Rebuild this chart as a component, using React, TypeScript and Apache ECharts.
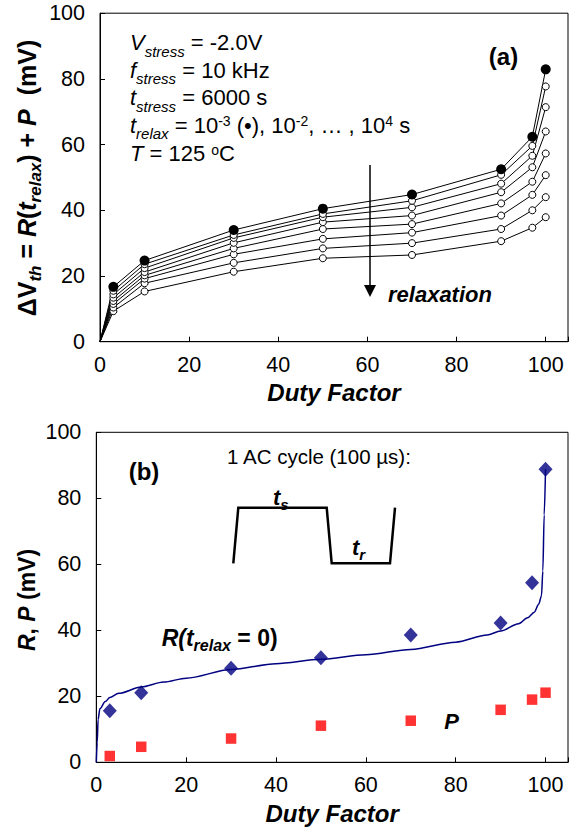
import React, { useEffect, useRef } from "react";
import * as echarts from "echarts";

const FONT = "'Liberation Sans', Arial, Helvetica, sans-serif";

// ---- Panel (a) data ----
const dutyA = [0, 3, 10, 30, 50, 70, 90, 97, 100];
const relaxLabels = ["1e-3", "1e-2", "1e-1", "1e0", "1e1", "1e2", "1e3", "1e4"];
const relaxSeries: number[][] = [
  [0, 16.7, 24.7, 34.0, 40.5, 44.8, 52.5, 62.4, 82.9],
  [0, 15.5, 23.6, 32.5, 38.9, 42.9, 50.8, 59.6, 77.7],
  [0, 14.4, 22.4, 31.6, 37.9, 40.9, 48.1, 56.6, 71.4],
  [0, 13.4, 21.2, 30.1, 36.4, 38.4, 45.5, 53.1, 64.0],
  [0, 12.4, 20.2, 28.4, 34.3, 35.8, 42.1, 48.7, 57.3],
  [0, 11.5, 19.2, 26.6, 31.3, 33.2, 38.4, 44.7, 50.7],
  [0, 10.4, 17.8, 24.0, 28.4, 30.0, 34.3, 40.0, 44.0],
  [0, 9.3, 15.3, 21.3, 25.4, 26.4, 30.6, 34.7, 37.9],
];

// ---- Panel (b) data ----
const dutyB = [3, 10, 30, 50, 70, 90, 97, 100];
const rValues = [15.6, 21.1, 28.5, 31.7, 38.6, 42.2, 54.4, 88.8];
const pValues = [1.9, 4.7, 7.2, 11.1, 12.6, 15.9, 19.0, 21.1];
const fitX = [0, 0.2, 0.4, 0.8, 2, 3, 5, 10, 15, 20, 30, 40, 50, 60, 70, 80, 87, 90, 94, 96, 97.5, 98.5, 99.1, 99.4, 99.7, 100];
const fitY = [0, 6, 13, 16.2, 18.4, 19.6, 20.9, 22.8, 24.3, 25.5, 28.1, 29.9, 31.2, 32.6, 34.2, 36.4, 38.6, 39.8, 42.0, 43.8, 45.5, 48.0, 50.5, 58, 75, 88.8];

const xTicks = [0, 20, 40, 60, 80, 100];

function fs(size: number, opts: any = {}) {
  return { fontFamily: FONT, fontSize: size, color: "#000", fill: "#000", verticalAlign: "top", ...opts };
}

export default function App() {
  const ref = useRef<HTMLDivElement>(null);
  useEffect(() => {
    if (!ref.current) return;
    const chart = echarts.init(ref.current, undefined, { renderer: "svg" });

    const axisCommonX = (gridIndex: number) => ({
      type: "value",
      gridIndex,
      min: 0,
      max: 105,
      interval: 20,
      axisLine: { show: true, lineStyle: { color: "#000", width: 1 } },
      axisTick: { show: true, inside: true, length: 5, lineStyle: { color: "#000" } },
      axisLabel: {
        fontFamily: FONT,
        fontSize: 21.5,
        color: "#000",
        margin: 12,
        formatter: (v: number) => (xTicks.indexOf(v) >= 0 ? String(v) : ""),
      },
      splitLine: { show: false },
      name: "Duty Factor",
      nameLocation: "middle",
      nameGap: 39,
      nameTextStyle: { fontFamily: FONT, fontSize: 24, fontWeight: "bold", fontStyle: "italic", color: "#000" },
    });
    const axisCommonY = (gridIndex: number) => ({
      type: "value",
      gridIndex,
      min: 0,
      max: 100,
      interval: 20,
      axisLine: { show: true, lineStyle: { color: "#000", width: 1 } },
      axisTick: { show: true, inside: true, length: 5, lineStyle: { color: "#000" } },
      axisLabel: { fontFamily: FONT, fontSize: 21.5, color: "#000", margin: 15 },
      splitLine: { show: false },
    });

    const seriesA: any[] = [];
    for (let i = relaxSeries.length - 1; i >= 0; i--) {
      const vals = relaxSeries[i];
      seriesA.push({
        name: relaxLabels[i],
        type: "line",
        xAxisIndex: 0,
        yAxisIndex: 0,
        data: dutyA.map((x, j) => (j === 0 ? { value: [x, vals[j]], symbol: "none" } : [x, vals[j]])),
        symbol: "circle",
        symbolSize: i === 0 ? 10 : 7,
        itemStyle: i === 0 ? { color: "#000" } : { color: "#fff", borderColor: "#000", borderWidth: 1 },
        lineStyle: { color: "#000", width: 1 },
        silent: true,
        z: 2,
      });
    }

    const main = fs(22, { padding: [4, 0, 0, 0] });
    const mainI = fs(22, { padding: [4, 0, 0, 0], fontStyle: "italic" });
    const sub = fs(15, { padding: [16, 0, 0, 0], fontStyle: "italic" });
    const sup = fs(14, { padding: [4, 0, 0, 0] });
    const annRich = { m: main, mi: mainI, s: sub, u: sup };
    const annLines = [
      "{mi|V}{s|stress}{m| = -2.0V}",
      "{mi|f}{s|stress}{m| = 10 kHz}",
      "{mi|t}{s|stress}{m| = 6000 s}",
      "{mi|t}{s|relax}{m| = 10}{u|-3}{m| (•), 10}{u|-2}{m|, … , 10}{u|4}{m| s}",
      "{mi|T}{m| = 125 }{u|o}{m|C}",
    ];
    const annTops = [27.5, 55.1, 82.7, 110.3, 138.5];

    const textEl = (x: number, y: number, text: string, rich: any, extra: any = {}) => ({
      type: "text",
      x,
      y,
      silent: true,
      style: {
        text,
        rich,
        align: "left",
        textAlign: "left",
        verticalAlign: "top",
        textVerticalAlign: "top",
        fill: "#000",
        fontFamily: FONT,
        ...extra,
      },
    });

    const bi = (size: number, pad: number) => fs(size, { fontWeight: "bold", fontStyle: "italic", padding: [pad, 0, 0, 0] });
    const b = (size: number, pad: number) => fs(size, { fontWeight: "bold", padding: [pad, 0, 0, 0] });

    const graphic: any[] = [
      ...annLines.map((t, k) => textEl(130, annTops[k], t, annRich)),
      {
        type: "text",
        x: 503.5,
        y: 56,
        silent: true,
        style: { text: "(a)", fontFamily: FONT, fontSize: 24, fontWeight: "bold", fill: "#000", align: "center", verticalAlign: "middle", textAlign: "center", textVerticalAlign: "middle" },
      },
      { type: "line", silent: true, shape: { x1: 370, y1: 165, x2: 370, y2: 287 }, style: { stroke: "#000", lineWidth: 1.5 } },
      { type: "polygon", silent: true, shape: { points: [[364, 285], [376, 285], [370, 297]] }, style: { fill: "#000" } },
      {
        type: "text",
        x: 388,
        y: 294,
        silent: true,
        style: { text: "relaxation", fontFamily: FONT, fontSize: 22, fontWeight: "bold", fontStyle: "italic", fill: "#000", align: "left", verticalAlign: "middle", textAlign: "left", textVerticalAlign: "middle" },
      },
      {
        type: "text",
        x: 29,
        y: 178,
        rotation: Math.PI / 2,
        silent: true,
        style: {
          text: "{b|ΔV}{s|th}{b| = }{i|R}{b|(}{i|t}{s|relax}{b|) + }{i|P}{b|  (mV)}",
          rich: { b: b(25, 0), i: bi(25, 0), s: bi(17, 12) },
          align: "center",
          verticalAlign: "middle",
          textAlign: "center",
          textVerticalAlign: "middle",
          fontFamily: FONT,
        },
      },
      // panel b
      {
        type: "text",
        x: 144,
        y: 471,
        silent: true,
        style: { text: "(b)", fontFamily: FONT, fontSize: 24, fontWeight: "bold", fill: "#000", align: "center", verticalAlign: "middle", textAlign: "center", textVerticalAlign: "middle" },
      },
      {
        type: "text",
        x: 227,
        y: 456,
        silent: true,
        style: { text: "1 AC cycle (100 µs):", fontFamily: FONT, fontSize: 20.5, fill: "#000", align: "left", verticalAlign: "middle", textAlign: "left", textVerticalAlign: "middle" },
      },
      {
        type: "polyline",
        silent: true,
        shape: { points: [[233.3, 563.3], [238.3, 507.7], [326.7, 507.7], [331.7, 563.3], [390, 563.3], [395, 507.7]] },
        style: { stroke: "#000", lineWidth: 2.5, fill: "none", lineJoin: "miter" },
      },
      textEl(273, 486.4, "{t|t}{s|s}", { t: bi(22, 0), s: bi(15, 11) }),
      textEl(352, 536.4, "{t|t}{s|r}", { t: bi(22, 0), s: bi(15, 11) }),
      textEl(161.7, 626, "{i|R(t}{s|relax}{b| = 0)}", { i: bi(23, 0), b: b(23, 0), s: bi(16, 11) }),
      {
        type: "text",
        x: 451.5,
        y: 721.5,
        silent: true,
        style: { text: "P", fontFamily: FONT, fontSize: 22, fontWeight: "bold", fontStyle: "italic", fill: "#000", align: "center", verticalAlign: "middle", textAlign: "center", textVerticalAlign: "middle" },
      },
      {
        type: "text",
        x: 27,
        y: 600,
        rotation: Math.PI / 2,
        silent: true,
        style: {
          text: "{i|R}{b|, }{i|P}{b| (mV)}",
          rich: { b: b(23, 0), i: bi(23, 0) },
          align: "center",
          verticalAlign: "middle",
          textAlign: "center",
          textVerticalAlign: "middle",
          fontFamily: FONT,
        },
      },
    ];

    const option: any = {
      animation: false,
      backgroundColor: "#fff",
      grid: [
        { left: 100, top: 13.2, width: 471.5, height: 328.5, show: true, borderColor: "#000", borderWidth: 1, containLabel: false },
        { left: 96.3, top: 432.3, width: 475.7, height: 330, show: true, borderColor: "#000", borderWidth: 1, containLabel: false },
      ],
      xAxis: [axisCommonX(0), axisCommonX(1)],
      yAxis: [axisCommonY(0), axisCommonY(1)],
      series: [
        ...seriesA,
        {
          name: "fit",
          type: "line",
          xAxisIndex: 1,
          yAxisIndex: 1,
          data: fitX.map((x, i) => [x, fitY[i]]),
          showSymbol: false,
          symbol: "none",
          smooth: 0.3,
          smoothMonotone: "x",
          lineStyle: { color: "#000080", width: 1.5 },
          silent: true,
        },
        {
          name: "R",
          type: "scatter",
          xAxisIndex: 1,
          yAxisIndex: 1,
          data: dutyB.map((x, i) => [x, rValues[i]]),
          symbol: "diamond",
          symbolSize: [14, 15],
          itemStyle: { color: "#000080" },
          silent: true,
          z: 3,
        },
        {
          name: "P",
          type: "scatter",
          xAxisIndex: 1,
          yAxisIndex: 1,
          data: dutyB.map((x, i) => [x, pValues[i]]),
          symbol: "rect",
          symbolSize: 10.5,
          itemStyle: { color: "#ff0000" },
          silent: true,
          z: 3,
        },
      ],
      graphic,
    };
    chart.setOption(option);
    return () => chart.dispose();
  }, []);

  return (
    <div
      ref={ref}
      style={{ position: "absolute", left: 0, top: 0, width: 571, height: 830, background: "#fff" }}
    />
  );
}
